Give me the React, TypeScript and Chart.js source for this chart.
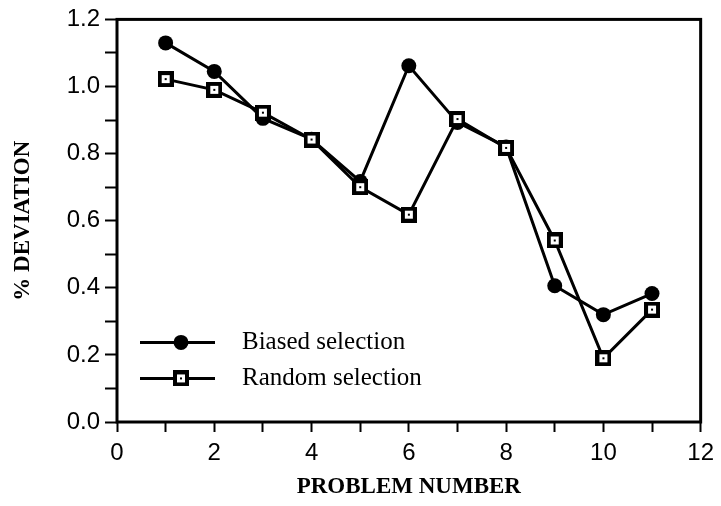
import React, { useEffect, useRef } from "react";
import { Chart, registerables } from "chart.js";

Chart.register(...registerables);

// Problem numbers on the x axis
const problems = [1, 2, 3, 4, 5, 6, 7, 8, 9, 10, 11];
// % deviation for each selection strategy
const biased = [1.13, 1.045, 0.905, 0.843, 0.717, 1.062, 0.893, 0.82, 0.406, 0.32, 0.383];
const random = [1.022, 0.99, 0.922, 0.842, 0.7, 0.618, 0.903, 0.817, 0.541, 0.19, 0.335];
const seriesNames = ["Biased selection", "Random selection"];
const xTitle = "PROBLEM NUMBER";
const yTitle = "% DEVIATION";

const SERIF = "'Liberation Serif', 'Times New Roman', serif";
const SANS = "'Liberation Sans', Arial, Helvetica, sans-serif";

// Open square with a dot in the middle
function makeSquareMarker(): HTMLCanvasElement {
  const size = 16;
  const c = document.createElement("canvas");
  c.width = size;
  c.height = size;
  const ctx = c.getContext("2d")!;
  ctx.fillStyle = "#000";
  ctx.fillRect(0, 0, size, size);
  ctx.fillStyle = "#fff";
  ctx.fillRect(4, 4, size - 8, size - 8);
  ctx.fillStyle = "#000";
  ctx.fillRect(7, 7, 2, 2);
  return c;
}

const framePlugin = {
  id: "frame",
  afterDraw(chart: any) {
    const { ctx, chartArea } = chart;
    ctx.save();
    ctx.strokeStyle = "#000";
    ctx.lineWidth = 3;
    ctx.strokeRect(chartArea.left, chartArea.top, chartArea.right - chartArea.left, chartArea.bottom - chartArea.top);
    ctx.restore();
  },
};

const legendPlugin = {
  id: "insetLegend",
  afterDraw(chart: any) {
    const { ctx, chartArea } = chart;
    const x0 = chartArea.left + 23;
    const x1 = chartArea.left + 98;
    const xm = chartArea.left + 64;
    const xt = chartArea.left + 125;
    const rows = [chartArea.top + 323, chartArea.top + 359];
    ctx.save();
    chart.data.datasets.forEach((ds: any, i: number) => {
      const y = rows[i];
      ctx.strokeStyle = "#000";
      ctx.lineWidth = 3;
      ctx.beginPath();
      ctx.moveTo(x0, y);
      ctx.lineTo(x1, y);
      ctx.stroke();
      if (ds.pointStyle === "circle") {
        ctx.fillStyle = "#000";
        ctx.beginPath();
        ctx.arc(xm, y, ds.pointRadius, 0, Math.PI * 2);
        ctx.fill();
      } else {
        const img = ds.pointStyle as HTMLCanvasElement;
        ctx.drawImage(img, xm - img.width / 2, y - img.height / 2);
      }
      ctx.fillStyle = "#000";
      ctx.font = `25px ${SERIF}`;
      ctx.textBaseline = "middle";
      ctx.textAlign = "left";
      ctx.fillText(ds.label, xt, y);
    });
    ctx.restore();
  },
};

export default function App() {
  const canvasRef = useRef<HTMLCanvasElement | null>(null);

  useEffect(() => {
    document.body.style.margin = "0";
    const square = makeSquareMarker();
    const chart = new Chart(canvasRef.current!, {
      type: "line",
      data: {
        datasets: [
          {
            label: seriesNames[0],
            data: problems.map((p, i) => ({ x: p, y: biased[i] })),
            borderColor: "#000",
            backgroundColor: "#000",
            borderWidth: 3,
            pointStyle: "circle",
            pointRadius: 7.5,
            pointBorderWidth: 0,
            order: 2,
          },
          {
            label: seriesNames[1],
            data: problems.map((p, i) => ({ x: p, y: random[i] })),
            borderColor: "#000",
            backgroundColor: "#fff",
            borderWidth: 3,
            pointStyle: square as any,
            pointRadius: 8,
            order: 1,
          },
        ],
      },
      options: {
        responsive: false,
        animation: false,
        devicePixelRatio: 1,
        layout: { padding: { left: 0, top: 14, right: 17, bottom: 0 } },
        plugins: { legend: { display: false }, tooltip: { enabled: false } },
        scales: {
          x: {
            type: "linear",
            min: 0,
            max: 12,
            afterFit: (s: any) => {
              s.height = 84;
            },
            ticks: {
              stepSize: 1,
              color: "#000",
              padding: 7,
              maxRotation: 0,
              autoSkip: false,
              font: { family: SANS, size: 24 },
              callback: (v: any) => (Math.round(v) % 2 === 0 ? String(Math.round(v)) : ""),
            },
            grid: { drawOnChartArea: false, drawTicks: true, tickLength: 10, tickWidth: 2, color: "#000" },
            border: { display: false },
            title: { display: true, text: xTitle, color: "#000", padding: { top: 0, bottom: 5 }, font: { family: SERIF, size: 23, weight: "bold" } },
          },
          y: {
            min: 0,
            max: 1.2,
            afterFit: (s: any) => {
              s.width = 117;
            },
            ticks: {
              stepSize: 0.1,
              color: "#000",
              padding: 5,
              autoSkip: false,
              font: { family: SANS, size: 24 },
              callback: (v: any) => {
                const t = Math.round(v * 10);
                return t % 2 === 0 ? (t / 10).toFixed(1) : "";
              },
            },
            grid: { drawOnChartArea: false, drawTicks: true, tickLength: 12, tickWidth: 2, color: "#000" },
            border: { display: false },
            title: { display: true, text: yTitle, color: "#000", padding: { top: 9, bottom: 0 }, font: { family: SERIF, size: 23, weight: "bold" } },
          },
        },
      },
      plugins: [framePlugin, legendPlugin],
    });
    return () => chart.destroy();
  }, []);

  return (
    <div style={{ position: "fixed", left: 0, top: 0, width: 721, height: 506, background: "#fff" }}>
      <canvas ref={canvasRef} width={721} height={506} style={{ width: 721, height: 506 }} />
    </div>
  );
}
